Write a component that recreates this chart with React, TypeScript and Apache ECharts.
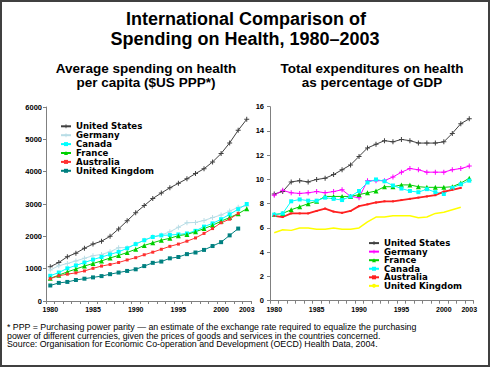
import React, { useEffect, useRef } from "react";
import * as echarts from "echarts";

const years = ["1980","1981","1982","1983","1984","1985","1986","1987","1988","1989","1990","1991","1992","1993","1994","1995","1996","1997","1998","1999","2000","2001","2002","2003"];
const shownYears = ["1980","1985","1990","1995","2000","2003"];

// Per capita spending ($US PPP)
const pcUS = [1060,1190,1370,1480,1630,1760,1850,2000,2230,2480,2730,2950,3170,3340,3500,3640,3780,3940,4090,4300,4560,4890,5280,5620];
const pcGermany = [960,1090,1160,1240,1320,1400,1440,1520,1650,1650,1760,1880,1990,2040,2140,2280,2420,2430,2490,2580,2660,2780,2900,2940];
const pcCanada = [780,880,1010,1100,1190,1280,1360,1440,1520,1630,1760,1880,1980,2030,2040,2060,2090,2170,2300,2400,2530,2680,2840,3000];
const pcFrance = [700,800,900,990,1080,1160,1240,1330,1410,1500,1600,1720,1800,1880,1940,2020,2060,2140,2240,2340,2470,2580,2700,2850];
const pcAustralia = [690,780,830,870,930,1010,1080,1130,1190,1270,1340,1430,1510,1600,1690,1760,1850,1950,2090,2240,2420,2530,2710,null];
const pcUK = [480,560,590,650,690,730,770,830,880,930,980,1080,1180,1220,1320,1360,1450,1500,1580,1700,1820,2030,2240,null];

// Health spending as % of GDP
const gdpUS = [8.8,9.0,9.8,9.9,9.8,10.0,10.1,10.4,10.8,11.2,11.9,12.6,12.9,13.2,13.1,13.3,13.2,13.0,13.0,13.0,13.1,13.8,14.6,15.0];
const gdpGermany = [8.7,9.1,8.9,8.85,8.9,9.0,8.9,9.0,9.15,8.6,8.5,9.9,9.9,9.9,10.2,10.6,10.9,10.8,10.6,10.6,10.6,10.8,10.9,11.1];
const gdpFrance = [7.1,7.2,7.5,7.75,8.0,8.2,8.6,8.6,8.6,8.6,8.75,8.9,9.05,9.4,9.4,9.55,9.55,9.4,9.35,9.35,9.35,9.4,9.7,10.1];
const gdpCanada = [7.1,7.2,8.2,8.35,8.25,8.25,8.5,8.4,8.3,8.6,9.05,9.75,10.0,9.85,9.5,9.25,9.05,8.95,9.2,8.95,8.8,9.3,9.6,9.9];
const gdpAustralia = [7.0,6.9,7.2,7.2,7.2,7.4,7.6,7.35,7.25,7.4,7.8,7.95,8.1,8.2,8.2,8.3,8.4,8.5,8.6,8.7,9.0,9.15,9.3,null];
const gdpUK = [5.6,5.85,5.8,6.0,6.0,5.9,5.9,6.0,5.9,5.9,6.0,6.5,6.9,6.9,7.0,7.0,7.0,6.85,6.9,7.2,7.3,7.5,7.7,null];

const FONT = "Liberation Sans, Arial, Helvetica, sans-serif";
const WIDE = "DejaVu Sans, Liberation Sans, sans-serif";
const PLUS = "path://M2,0H3V2H5V3H3V5H2V3H0V2H2Z";

function xAxisCfg() {
  return {
    type: "category",
    data: years,
    boundaryGap: true,
    axisLine: { lineStyle: { color: "#808080", width: 1 } },
    axisTick: { show: true, interval: 0, length: 3, lineStyle: { color: "#808080" } },
    axisLabel: {
      interval: (_i: number, v: string) => shownYears.includes(v),
      fontSize: 7,
      fontWeight: "bold",
      fontFamily: FONT,
      color: "#000",
      margin: 5,
    },
    splitLine: { show: false },
  };
}

function yAxisCfg(max: number, interval: number, margin: number) {
  return {
    type: "value",
    min: 0,
    max,
    interval,
    axisLine: { show: true, lineStyle: { color: "#808080", width: 1 } },
    axisTick: { show: true, length: 3, lineStyle: { color: "#808080" } },
    axisLabel: {
      fontSize: 7.5,
      fontWeight: "bold",
      fontFamily: FONT,
      color: "#000",
      margin,
      formatter: (v: number) => String(v),
    },
    splitLine: { show: false },
  };
}

function line(name: string, data: (number | null)[], color: string, symbol: string, symbolSize: number, width = 1) {
  return {
    name,
    type: "line",
    data,
    color,
    symbol,
    symbolSize,
    showSymbol: symbol !== "none",
    lineStyle: { color, width },
    itemStyle: { color },
    connectNulls: false,
  };
}

function legendCfg(left: number, top: number, gap: number, names: string[]) {
  return {
    orient: "vertical",
    left,
    top,
    itemWidth: 10,
    itemHeight: 5,
    itemGap: gap,
    padding: 0,
    data: names,
    textStyle: { fontSize: 8.6, fontWeight: "bold", fontFamily: WIDE, color: "#000", lineHeight: 8.6 },
  };
}

function t(text: string, x: number, y: number, size: number, bold: boolean, align = "center") {
  return {
    type: "text",
    style: {
      text,
      x,
      y,
      fill: "#000",
      fontSize: size,
      fontWeight: bold ? "bold" : "normal",
      fontFamily: FONT,
      textAlign: align,
      textVerticalAlign: "middle",
    },
  };
}

export default function App() {
  const leftRef = useRef<HTMLDivElement>(null);
  const rightRef = useRef<HTMLDivElement>(null);

  useEffect(() => {
    const a = echarts.init(leftRef.current!, undefined, { renderer: "svg" });
    const b = echarts.init(rightRef.current!, undefined, { renderer: "svg" });

    a.setOption({
      animation: false,
      backgroundColor: "#fff",
      graphic: [
        { type: "rect", shape: { x: 1, y: 1, width: 488, height: 365 }, style: { fill: "none", stroke: "#404040", lineWidth: 2 } },
        t("International Comparison of", 246, 19, 18, true),
        t("Spending on Health, 1980\u20132003", 245, 38.5, 18, true),
        t("Average spending on health", 146, 68, 13.5, true),
        t("per capita ($US PPP*)", 146, 82, 13.5, true),
        t("Total expenditures on health", 372, 68, 13.5, true),
        t("as percentage of GDP", 372, 82, 13.5, true),
        t("* PPP = Purchasing power parity \u2014 an estimate of the exchange rate required to equalize the purchasing", 7, 327, 8.8, false, "left"),
        t("power of different currencies, given the prices of goods and services in the countries concerned.", 7, 335.5, 8.8, false, "left"),
        t("Source: Organisation for Economic Co-operation and Development (OECD) Health Data, 2004.", 7, 344, 8.8, false, "left"),
      ],
      legend: legendCfg(60, 121.8, -0.1, ["United States", "Germany", "Canada", "France", "Australia", "United Kingdom"]),
      grid: { left: 46, right: 239, top: 107, bottom: 66, containLabel: false },
      xAxis: xAxisCfg(),
      yAxis: yAxisCfg(6000, 1000, 4),
      series: [
        line("United States", pcUS, "#404040", PLUS, 5),
        line("Germany", pcGermany, "#B8DDE6", PLUS, 5),
        line("Canada", pcCanada, "#00FFFF", "rect", 4),
        line("France", pcFrance, "#00D000", "triangle", 5),
        line("Australia", pcAustralia, "#FF3030", "rect", 3),
        line("United Kingdom", pcUK, "#008080", "rect", 4),
      ],
    });

    b.setOption({
      animation: false,
      legend: legendCfg(368, 238.6, -0.45, ["United States", "Germany", "France", "Canada", "Australia", "United Kingdom"]),
      grid: { left: 270, right: 16.5, top: 106.7, bottom: 66.3, containLabel: false },
      xAxis: xAxisCfg(),
      yAxis: yAxisCfg(16, 2, 6),
      series: [
        line("United States", gdpUS, "#404040", PLUS, 5),
        line("Germany", gdpGermany, "#FF00FF", PLUS, 5),
        line("France", gdpFrance, "#00D000", "triangle", 5),
        line("Canada", gdpCanada, "#00FFFF", "rect", 4),
        line("Australia", gdpAustralia, "#FF2020", "rect", 2, 1.8),
        line("United Kingdom", gdpUK, "#FFFF00", "none", 2, 1.5),
      ],
    });

    return () => {
      a.dispose();
      b.dispose();
    };
  }, []);

  const layer: React.CSSProperties = { position: "absolute", left: 0, top: 0, width: 490, height: 367 };
  return (
    <div style={{ position: "fixed", left: 0, top: 0, width: 490, height: 367 }}>
      <div ref={leftRef} style={layer} />
      <div ref={rightRef} style={layer} />
    </div>
  );
}
